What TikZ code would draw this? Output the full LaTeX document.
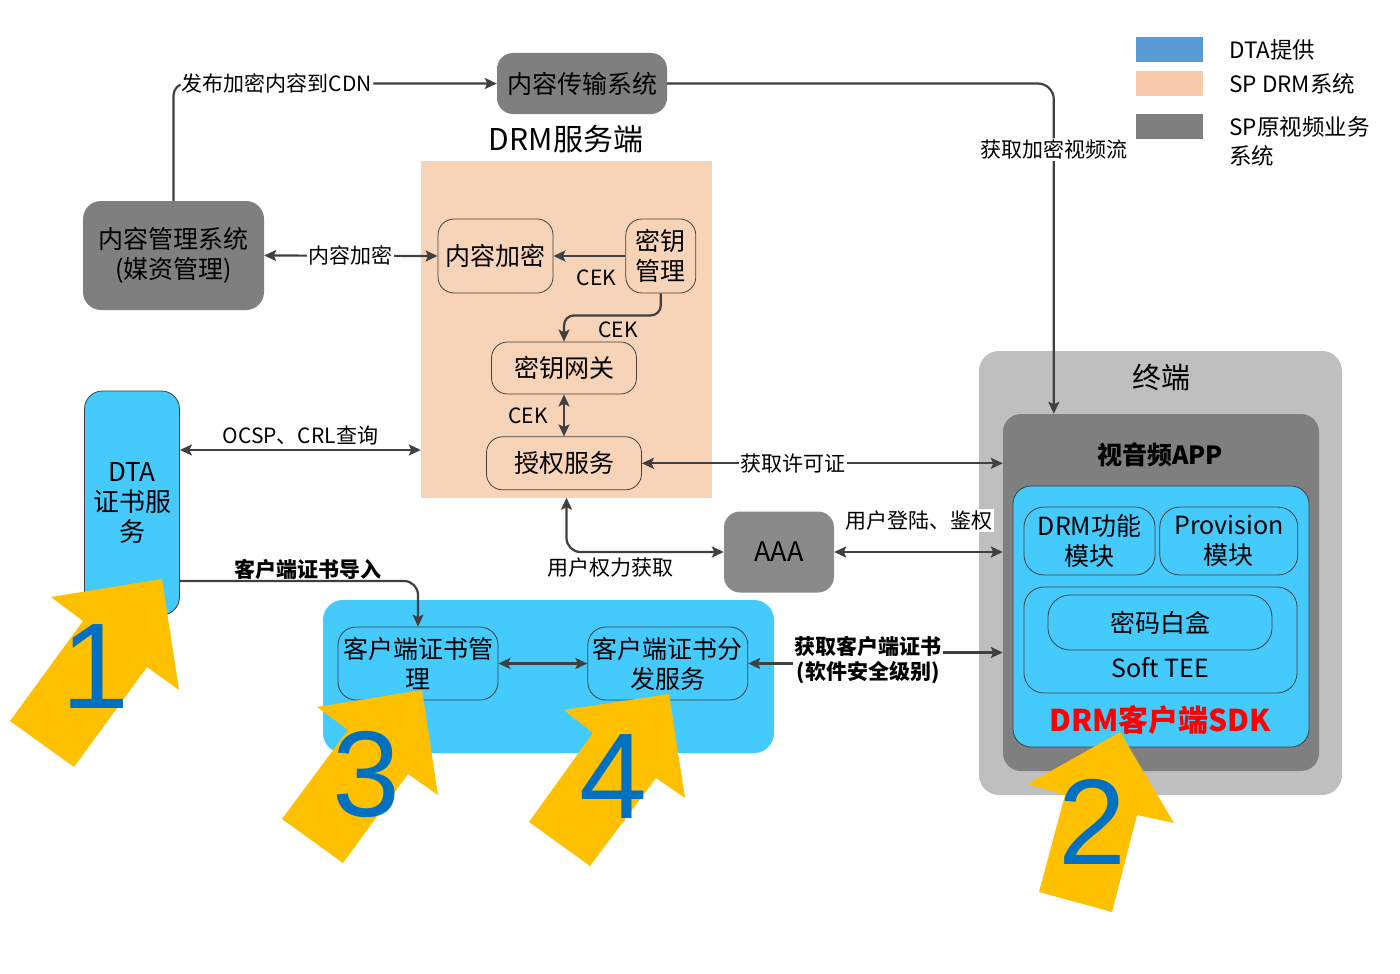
\documentclass[tikz,border=0pt]{standalone}
\usepackage{fontspec}
\setmainfont{Noto Sans CJK SC}
\newfontfamily\digitfont{Liberation Sans}
\usetikzlibrary{arrows.meta,positioning}
\definecolor{boxgray}{HTML}{7F7F7F}
\definecolor{aaagray}{HTML}{8A8A8A}
\definecolor{termgray}{HTML}{BFBFBF}
\definecolor{drmpeach}{HTML}{F7D4B8}
\definecolor{legpeach}{HTML}{F8CBAD}
\definecolor{legblue}{HTML}{5B9BD5}
\definecolor{dtacyan}{HTML}{45CAFD}
\definecolor{linegray}{HTML}{404040}
\definecolor{hintyellow}{HTML}{FFC000}
\definecolor{hintblue}{HTML}{0070C0}
\begin{document}
\begin{tikzpicture}[x=1pt,y=-1pt,
  every node/.style={inner sep=0pt},
  flow/.style={draw=linegray, line width=2.2pt, -{Stealth[length=12pt,width=11pt,inset=2.5pt]}},
  flowboth/.style={flow, {Stealth[length=12pt,width=11pt,inset=2.5pt]}-{Stealth[length=12pt,width=11pt,inset=2.5pt]}},
  sysbox/.style={fill=boxgray, rounded corners=16pt, align=center, font=\fontsize{25}{30}\selectfont},
  drmbox/.style={draw=linegray, line width=0.8pt, fill=drmpeach, rounded corners=16pt, align=center, font=\fontsize{25}{30}\selectfont},
  dtabox/.style={draw=linegray, line width=0.8pt, fill=dtacyan, rounded corners=18pt, align=center, font=\fontsize{25}{30}\selectfont},
  tag/.style={fill=white, inner sep=1.5pt, font=\fontsize{21}{24}\selectfont},
  cek/.style={font=\fontsize{21}{24}\selectfont},
  boldtag/.style={tag, align=center, font=\fontsize{21}{25}\selectfont\bfseries},
  title/.style={font=\fontsize{29}{34}\selectfont},
  legbox/.style={minimum width=67pt, minimum height=25pt},
  legtext/.style={align=left, font=\fontsize{22.5}{29}\selectfont},
  hint/.style={fill=hintyellow},
  hintnum/.style={text=hintblue, font=\digitfont\fontsize{122}{122}\selectfont}]
\fill[white] (0,0) rectangle (1400,974);
\useasboundingbox (0,0) rectangle (1400,974);

\node[legbox, fill=legblue] (legdta) at (1169.5,49.5) {};
\node[legbox, fill=legpeach, below=9pt of legdta] (legdrm) {};
\node[legbox, fill=boxgray, below=17pt of legdrm] (legsp) {};
\node[legtext, right=26pt of legdta] (legdtatext) {DTA提供};
\node[legtext, right=26pt of legdrm] (legdrmtext) {SP DRM系统};
\node[legtext, anchor=north west] (legsptext) at ([xshift=26pt,yshift=-3pt]legsp.north east) {SP原视频业务\\系统};

\node[sysbox, minimum width=170pt, minimum height=61pt] (cdn) at (582,83.5) {内容传输系统};
\node[title, font=\fontsize{30}{34}\selectfont] (drmtitle) at (566,139) {DRM服务端};
\node[fill=drmpeach, minimum width=291pt, minimum height=337pt] (drm) at (566.5,329) {};
\node[sysbox, rounded corners=18pt, minimum width=181pt, minimum height=109pt] (cms) at (173.5,255.5) {内容管理系统\\(媒资管理)};
\node[drmbox, minimum width=115pt, minimum height=74pt] (enc) at (495.5,256) {内容加密};
\node[drmbox, minimum width=70pt, minimum height=74pt, right=72pt of enc] (kms) {密钥\\管理};
\node[drmbox, minimum width=145pt, minimum height=52pt] (gate) at (564,368) {密钥网关};
\node[drmbox, minimum width=155pt, minimum height=53pt, below=42pt of gate] (auth) {授权服务};

\node[dtabox, minimum width=95pt, minimum height=224pt, font=\fontsize{26}{30}\selectfont] (dta) at (132,503) {DTA\\证书服\\务};
\node[sysbox, fill=aaagray, minimum width=110pt, minimum height=81pt, font=\fontsize{27}{30}\selectfont] (aaa) at (779,552) {AAA};
\node[fill=dtacyan, rounded corners=20pt, minimum width=451pt, minimum height=153pt] (certzone) at (548.5,676.5) {};
\node[dtabox, minimum width=160pt, minimum height=73pt] (mgr) at (418,663.5) {客户端证书管\\理};
\node[dtabox, minimum width=160pt, minimum height=73pt, right=89pt of mgr] (dist) {客户端证书分\\发服务};

\node[fill=termgray, rounded corners=20pt, minimum width=363pt, minimum height=444pt] (term) at (1160.5,573) {};
\node[title] (termtitle) at (1161,377) {终端};
\node[fill=boxgray, rounded corners=18pt, minimum width=316pt, minimum height=357pt] (app) at (1161,592.5) {};
\node[font=\fontsize{25}{30}\selectfont\bfseries] (apptitle) at (1160,455) {视音频APP};
\node[draw=linegray, line width=0.8pt, fill=dtacyan, rounded corners=18pt, minimum width=296pt, minimum height=261pt] (sdk) at (1161,616.5) {};
\node[dtabox, rounded corners=20pt, minimum width=131pt, minimum height=68pt] (drmmod) at (1089.5,541) {DRM功能\\模块};
\node[dtabox, rounded corners=20pt, minimum width=138pt, minimum height=68pt, right=4pt of drmmod] (provmod) {Provision\\模块};
\node[dtabox, rounded corners=20pt, minimum width=273pt, minimum height=106pt] (tee) at (1160.5,640) {};
\node[dtabox, rounded corners=22pt, minimum width=224pt, minimum height=55pt] (wbox) at (1160,622.5) {密码白盒};
\node[font=\fontsize{25}{30}\selectfont] (teetitle) at (1160,668) {Soft TEE};
\node[text=red, font=\fontsize{30}{34}\selectfont\bfseries] (sdktitle) at (1160,720) {DRM客户端SDK};

\draw[flow, rounded corners=12pt] (cms.north) |- node[tag, pos=0.66] (publish) {发布加密内容到CDN} (cdn.west);
\draw[flow, rounded corners=16pt] (cdn.east) -| node[tag, pos=0.6] (stream) {获取加密视频流} ([xshift=51pt]app.north west);
\draw[flowboth] (cms.east) -- node[tag] (encrypt) {内容加密} (enc.west);
\draw[flow] (kms.west) -- node[cek, pos=0.4, below=13pt] (cek1) {CEK} (enc.east);
\draw[flow, rounded corners=10pt] (kms.south) -- ++(0,22) -| node[cek, pos=0.22, below=5pt] (cek2) {CEK} (gate.north);
\draw[flowboth] (gate.south) -- node[cek, left=15pt] (cek3) {CEK} (auth.north);
\draw[flowboth] ([yshift=53pt]dta.east) -- node[cek, above=4pt] (ocsp) {OCSP、CRL查询} ([yshift=53pt]dta.east -| drm.west);
\draw[flowboth] (auth.east) -- node[tag, pos=0.42] (license) {获取许可证} (auth.east -| app.west);
\draw[flowboth, rounded corners=14pt] (drm.south) |- node[cek, pos=0.64, below=5pt] (rights) {用户权力获取} (aaa.west);
\draw[flowboth] (aaa.east) -- node[tag, above=19pt] (login) {用户登陆、鉴权} (aaa.east -| app.west);
\draw[flow, rounded corners=14pt] ([yshift=-78pt]dta.east) -| node[cek, font=\fontsize{21}{25}\selectfont\bfseries, pos=0.27, above=0pt] (import) {客户端证书导入} (mgr.north);
\draw[flowboth] (mgr.east) -- (dist.west);
\draw[flowboth] (dist.east) -- ++(120,0) node[boldtag, yshift=3pt] (fetchcert) {获取客户端证书\\(软件安全级别)} |- ([yshift=-60pt]app.west);

\fill[hint] (162,579) -- (51,597) -- (83,621) -- (10,721) -- (74,767) -- (147,667) -- (179,690) -- cycle;
\node[hintnum] (one) at (95,667) {1};
\fill[hint] (1120,732) -- (1028,784) -- (1065,795) -- (1039,892) -- (1112,912) -- (1137,815) -- (1174,823) -- cycle;
\node[hintnum] (two) at (1092,822) {2};
\fill[hint] (422,690) -- (317,707) -- (348,730) -- (282,819) -- (343,863) -- (408,774) -- (438,795) -- cycle;
\node[hintnum] (three) at (366,774) {3};
\fill[hint] (669,694) -- (564,710) -- (593,733) -- (529,822) -- (590,866) -- (656,778) -- (685,798) -- cycle;
\node[hintnum] (four) at (613,777) {4};
\end{tikzpicture}
\end{document}
